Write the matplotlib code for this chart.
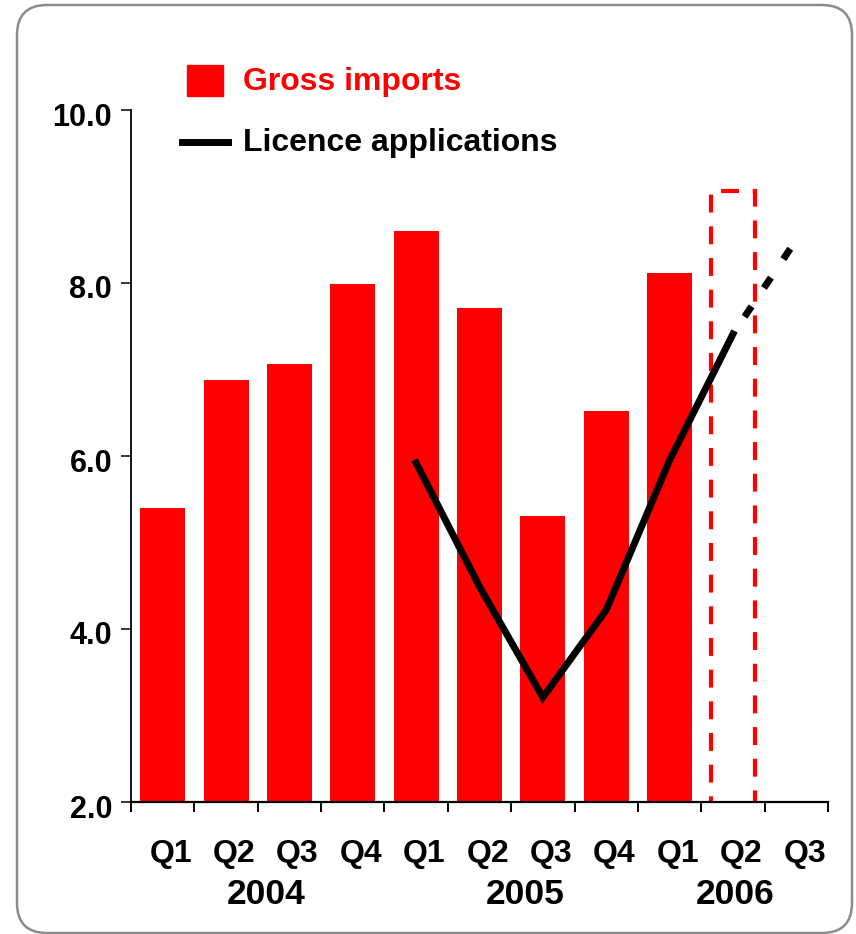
import matplotlib
matplotlib.use("Agg")
import matplotlib.pyplot as plt
from matplotlib.patches import FancyBboxPatch, Rectangle
from matplotlib.lines import Line2D
from matplotlib.transforms import IdentityTransform, ScaledTranslation

plt.rcParams["font.family"] = ["Liberation Sans", "DejaVu Sans"]
plt.rcParams["font.weight"] = "bold"

quarters = ["Q1", "Q2", "Q3", "Q4", "Q1", "Q2", "Q3", "Q4", "Q1", "Q2", "Q3"]
years = ["2004", "2005", "2006"]
year_pos = [1.63, 5.71, 9.03]

# gross imports, Q1 2004 .. Q1 2006
imports = [5.40, 6.88, 7.06, 7.99, 8.60, 7.71, 5.31, 6.52, 8.12]
# Q2 2006 projection (outlined bar)
imports_proj = 9.06

# licence applications, Q1 2005 .. Q2 2006, then projected to Q3 2006
lic_x = [4, 5, 6, 7, 8, 9]
lic_y = [5.92, 4.49, 3.21, 4.22, 5.95, 7.41]
lic_proj_x = [9, 10]
lic_proj_y = [7.41, 8.50]

RED = "#ff0000"
FS = 23

W, H = 856, 934
fig = plt.figure(figsize=(W / 100, H / 100), dpi=100)
ax = fig.add_axes([131 / W, 1 - 802 / H, (828 - 131) / W, (802 - 110) / H])

ax.bar(range(len(imports)), imports, width=0.71, color=RED, zorder=2)
ax.bar([9], [imports_proj], width=0.70, fill=False, edgecolor=RED,
       linewidth=3, linestyle=(0, (4.3, 3.3)), zorder=2)
ax.plot(lic_x, lic_y, color="black", lw=5, solid_joinstyle="miter", zorder=3)
ax.plot(lic_proj_x, lic_proj_y, color="black", lw=5,
        linestyle=(2, (1.8, 3.2)), dash_capstyle="butt", zorder=3)

ax.set_xlim(-0.5, 10.5)
ax.set_ylim(2, 10)
ax.set_yticks([2, 4, 6, 8, 10])
ax.set_yticklabels(["%.1f" % v for v in [2, 4, 6, 8, 10]])
ax.set_xticks([i - 0.5 for i in range(12)])
ax.set_xticklabels([])
ax.tick_params(axis="y", direction="out", length=7, width=1.1, pad=6.5,
               labelsize=22)
ax.tick_params(axis="x", direction="out", length=7, width=1.4)
for s in ["top", "right"]:
    ax.spines[s].set_visible(False)
ax.spines["left"].set_linewidth(1.3)
ax.spines["bottom"].set_linewidth(1.6)
shift = ScaledTranslation(0, -4 / 100, fig.dpi_scale_trans)
for lab in ax.get_yticklabels():
    lab.set_transform(lab.get_transform() + shift)

# quarter and year labels under the axis
for i, q in enumerate(quarters):
    fig.text((131 + 63.4 * (i + 0.5) + 8) / W, 1 - 854 / H, q,
             ha="center", va="center", fontsize=FS, fontweight="bold")
for p, yr in zip(year_pos, years):
    fig.text((131 + 63.4 * (p + 0.5)) / W, 1 - 895 / H, yr,
             ha="center", va="center", fontsize=25.5, fontweight="bold")

# legend
fig.patches.append(Rectangle((187 / W, 1 - 96 / H), 36 / W, 31 / H,
                             transform=fig.transFigure, color=RED))
fig.text(243 / W, 1 - 82 / H, "Gross imports", color=RED, fontsize=FS,
         fontweight="bold", va="center", ha="left")
fig.lines.append(Line2D([182 / W, 228 / W], [1 - 142 / H, 1 - 142 / H],
                        transform=fig.transFigure, color="black", lw=5))
fig.text(243 / W, 1 - 143 / H, "Licence applications", color="black",
         fontsize=FS, fontweight="bold", va="center", ha="left")

# rounded frame
frame = FancyBboxPatch((17, 1), 835, H - 5 - 1,
                       boxstyle="round,pad=0,rounding_size=30",
                       transform=IdentityTransform(), fill=False,
                       edgecolor="#8c8c8c", linewidth=1.8)
fig.patches.append(frame)

fig.savefig("out.png", dpi=100)
